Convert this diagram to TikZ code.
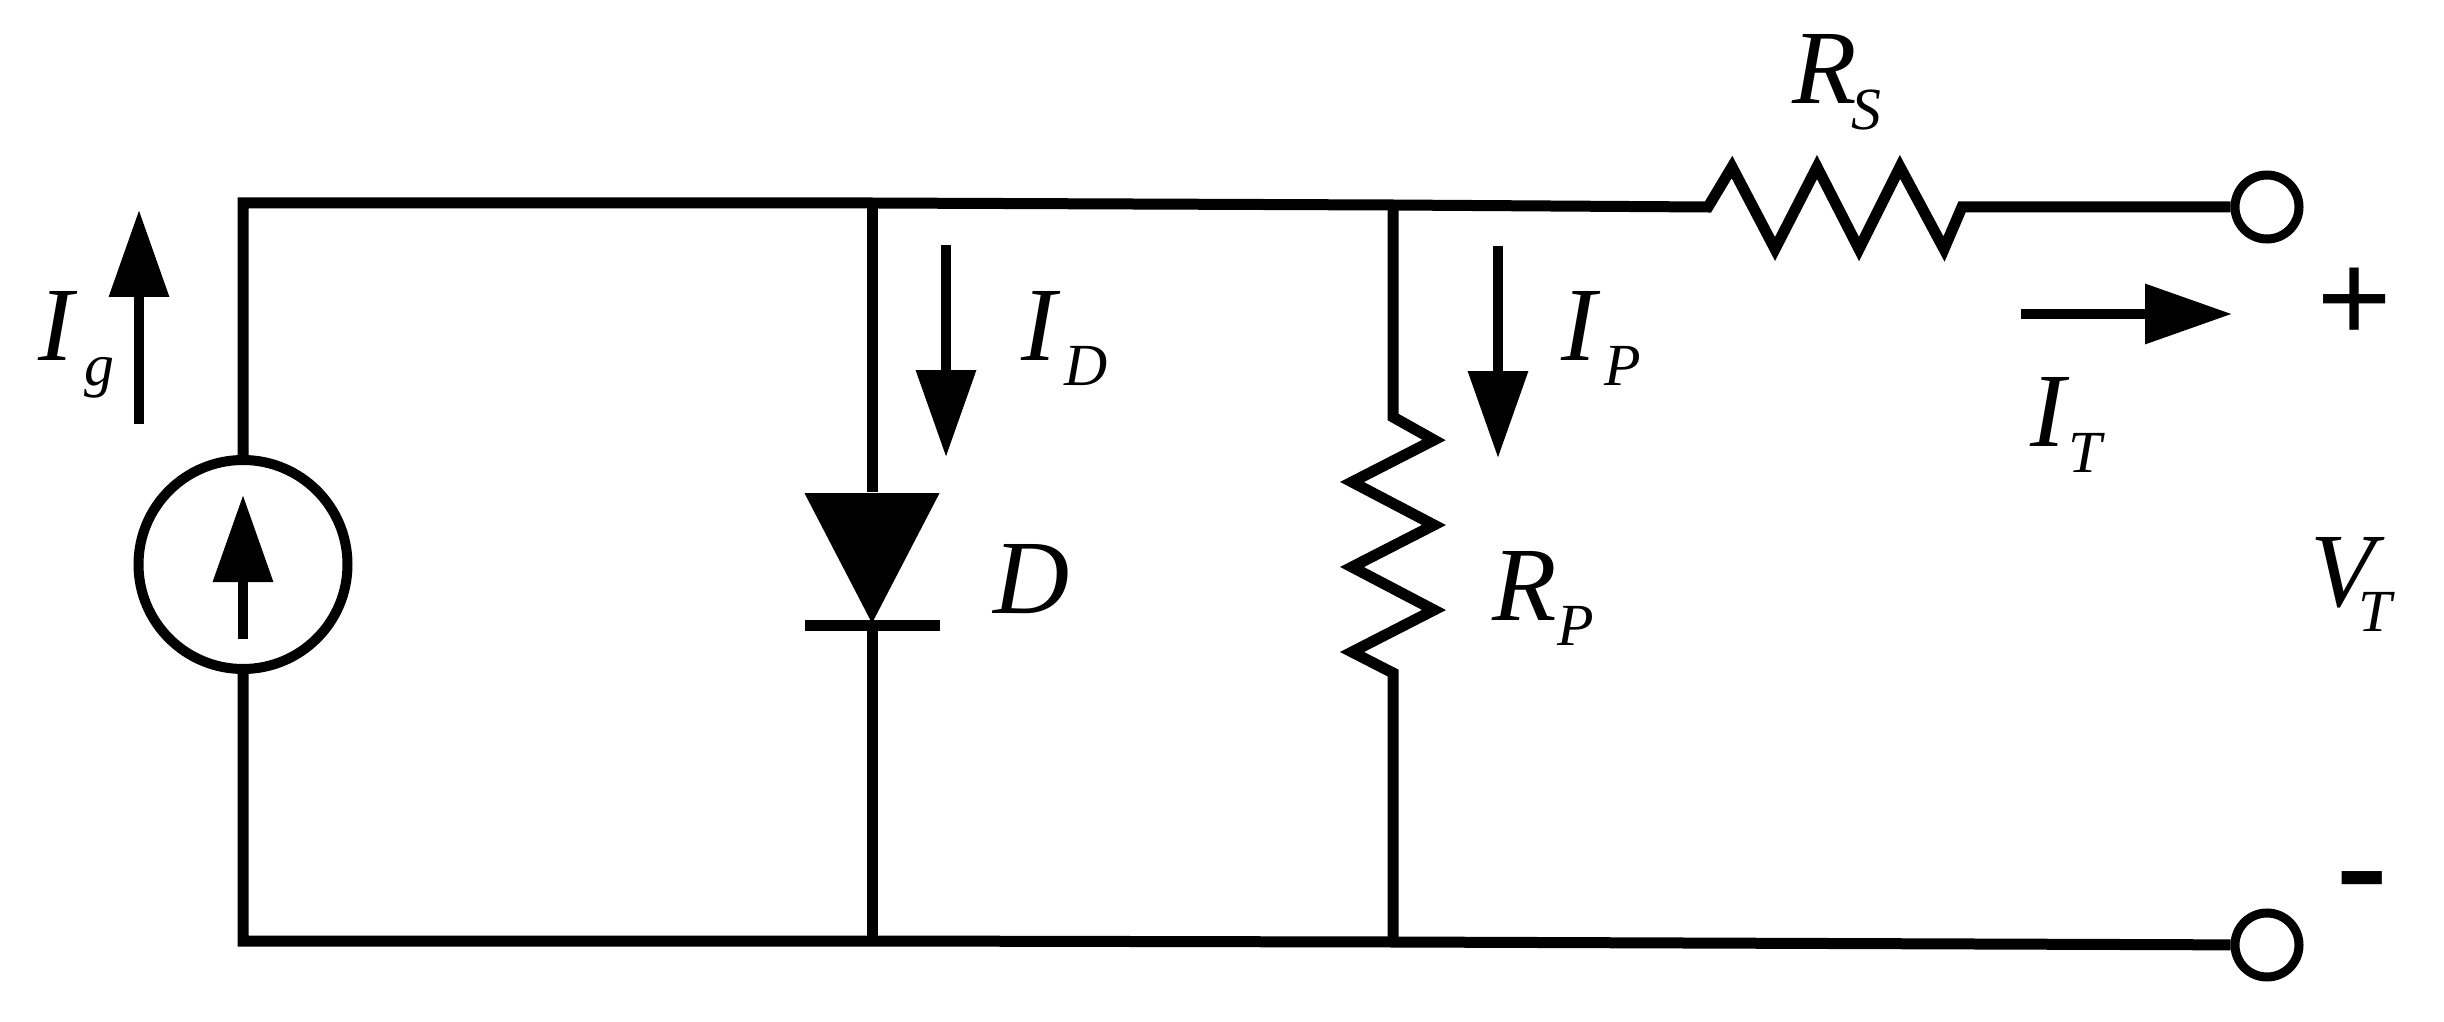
\documentclass[tikz,border=0pt]{standalone}
\usepackage{fontspec}
\setmainfont{Liberation Serif}
\usetikzlibrary{arrows.meta,shapes.geometric}
\newcommand{\varsub}[3][0pt]{\textit{#2}\kern#1\raisebox{-0.24em}{\fontsize{17}{17}\selectfont\textit{#3}}}
\tikzset{
  wire/.style={line width=0.11cm,line join=miter},
  cur/.style={line width=0.1cm,-{Triangle[length=0.87cm,width=0.58cm]}},
  var/.style={anchor=base west,inner sep=0pt,font=\fontsize{30}{30}\selectfont},
  term/.style={circle,draw,line width=0.09cm,minimum size=0.64cm,inner sep=0pt},
}
\begin{document}
\begin{tikzpicture}[x=1cm,y=-1cm]
      \useasboundingbox (0,0) rectangle (24.44,10.22);
      % junctions
      \coordinate (tl) at (2.43,2.03);
      \coordinate (bl) at (2.43,9.41);
      \coordinate (td) at (8.72,2.03);
      \coordinate (bd) at (8.72,9.41);
      \coordinate (tp) at (13.93,2.05);
      \coordinate (bp) at (13.93,9.42);
      \node (src) at (2.43,5.645) [circle,draw,line width=0.1cm,minimum size=2.09cm] {};
      \node (tplus) at (22.67,2.07) [term] {};
      \node (tminus) at (22.67,9.45) [term] {};
      % diode
      \node (diode) at (8.72,6.25) [isosceles triangle,isosceles triangle stretches,shape border rotate=270,anchor=apex,fill=black,inner sep=0pt,minimum width=1.35cm,minimum height=1.30cm] {};
      \node (dbar) at (8.72,6.25) [fill=black,inner sep=0pt,minimum width=1.35cm,minimum height=0.11cm] {};
      % series and parallel resistors
      \coordinate (rs1) at (17.08,2.07);
      \coordinate (rs2) at (19.62,2.07);
      \coordinate (rp1) at (13.93,4.17);
      \coordinate (rp2) at (13.93,6.73);
      % wires
      \draw [wire](src)--(tl)--(td)--(tp)--(rs1)--(17.32,1.67)--(17.75,2.49)--(18.17,1.67)--(18.59,2.49)--(19.00,1.67)--(19.44,2.49)--(rs2)--(tplus);
      \draw [wire](src)--(bl)--(bd)--(bp)--(tminus);
      \draw [wire](td)--(diode);
      \draw [wire](dbar)--(bd);
      \draw [wire](tp)--(rp1)--(14.34,4.40)--(13.52,4.82)--(14.34,5.25)--(13.52,5.67)--(14.34,6.10)--(13.52,6.52)--(rp2)--(bp);
      % current arrows
      \coordinate (ia0) at (2.43,6.39);
      \coordinate (ia1) at (2.43,4.95);
      \draw [cur](ia0)--(ia1);
      \coordinate (ig0) at (1.39,4.24);
      \coordinate (ig1) at (1.39,2.10);
      \draw [cur](ig0)--(ig1);
      \coordinate (id0) at (9.46,2.45);
      \coordinate (id1) at (9.46,4.57);
      \draw [cur](id0)--(id1);
      \coordinate (ip0) at (14.98,2.46);
      \coordinate (ip1) at (14.98,4.58);
      \draw [cur](ip0)--(ip1);
      \coordinate (it0) at (20.21,3.14);
      \coordinate (it1) at (22.32,3.14);
      \draw [cur](it0)--(it1);
      % labels
      \node (lg) at (0.38,3.60) [var] {\varsub[2pt]{I}{g}};
      \node (lid) at (10.21,3.60) [var] {\varsub[1pt]{I}{D}};
      \node (lip) at (15.61,3.60) [var] {\varsub[1pt]{I}{P}};
      \node (lit) at (20.30,4.47) [var] {\varsub[-0.5pt]{I}{T}};
      \node (lrs) at (17.92,1.04) [var] {\varsub[-1.5pt]{R}{S}};
      \node (lrp) at (14.92,6.20) [var] {\varsub{R}{P}};
      \node (lvt) at (23.10,6.06) [var] {\varsub[-7.5pt]{V}{T}};
      \node (ld) at (9.93,6.13) [var] {\textit{D}};
      \node (lplus) at (23.55,3.06) [font=\fontsize{38}{38}\selectfont\bfseries,inner sep=0pt] {+};
      \node (lminus) at (23.62,8.93) [font=\fontsize{44}{44}\selectfont\bfseries,inner sep=0pt] {-};
    \end{tikzpicture}
\end{document}
